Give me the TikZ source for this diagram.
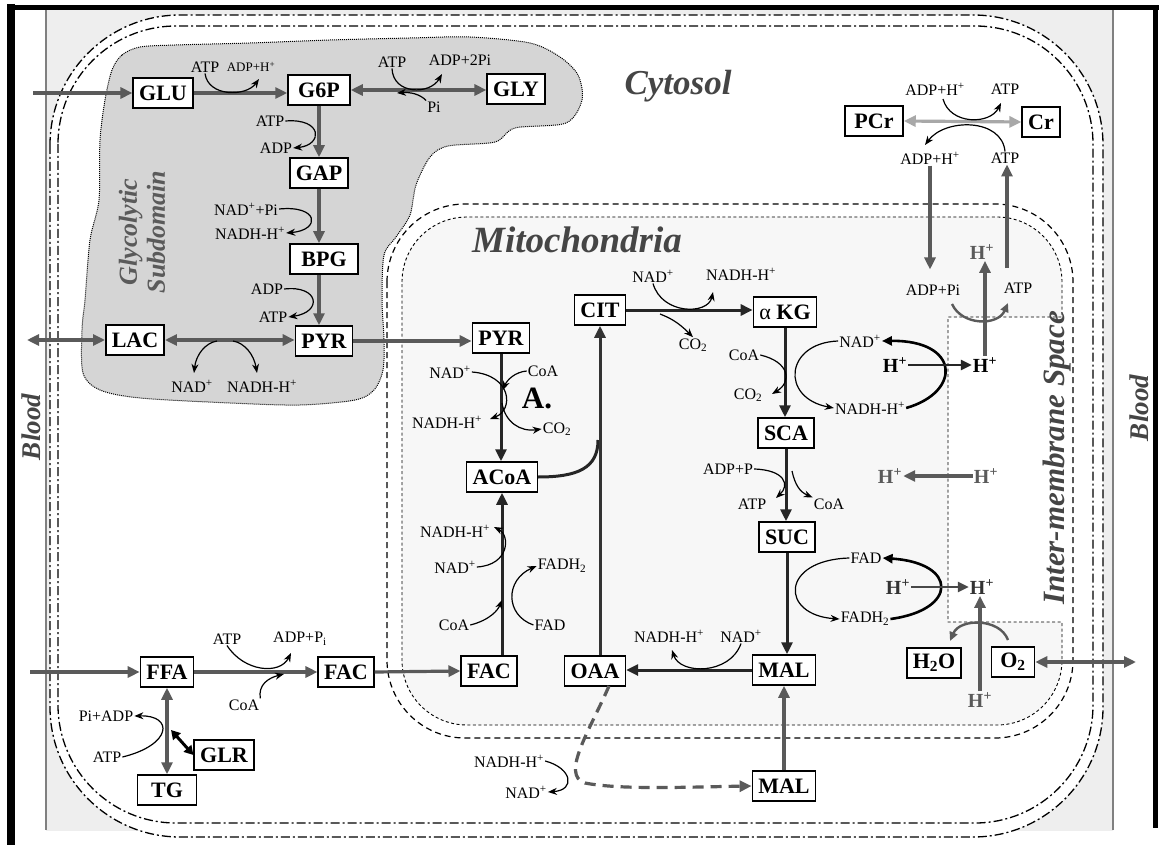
\documentclass[tikz,border=0pt]{standalone}
\usepackage{fontspec}
\setmainfont{Liberation Serif}
\usetikzlibrary{arrows.meta}
\definecolor{garc}{HTML}{5A5A5A}
\definecolor{ltg}{HTML}{A8A8A8}
\definecolor{blobc}{HTML}{D5D5D5}
\definecolor{ttl}{HTML}{454545}
\begin{document}
\begin{tikzpicture}[x=1pt,y=-1pt,
  box/.style={draw=black,line width=1.5pt,fill=white,font=\fontsize{22}{22}\selectfont\bfseries,inner xsep=6pt,inner ysep=2pt,minimum height=30pt},
  lab/.style={font=\fontsize{16}{16}\selectfont,inner sep=1pt},
  hlab/.style={font=\fontsize{20}{20}\selectfont\bfseries,inner sep=1pt},
  ttlf/.style={font=\fontsize{35}{35}\selectfont\bfseries\itshape,text=ttl},
  memb/.style={line width=1.3pt,dash pattern=on 9pt off 3pt on 2pt off 3pt},
  garr/.style={draw=garc,line width=3.2pt,-{Triangle[length=12pt,width=11pt]}},
  gdarr/.style={draw=garc,line width=3.2pt,{Triangle[length=12pt,width=11pt]}-{Triangle[length=12pt,width=11pt]}},
  barr/.style={draw=black!85,line width=3pt,-{Triangle[length=12pt,width=11pt]}},
  cof/.style={draw=black,line width=1.2pt,-{Stealth[length=9pt,width=7pt]}},
  pump/.style={draw=black,line width=2.6pt,-{Triangle[length=10pt,width=9pt]}},
  gcur/.style={draw=garc,line width=2.4pt,-{Triangle[length=9pt,width=8pt]}}
]
\useasboundingbox (0,0) rectangle (1162,845);
\fill[white] (0,0) rectangle (1162,845);
% hatched corners outside the cell
\begin{scope}
\clip (46,10) rectangle (1113,830);
\fill[gray!13,even odd rule] (46,10) rectangle (1113,845) [rounded corners=130pt] (50,15) rectangle (1103,837);
\end{scope}
% frame
\draw[line width=8pt] (11,4) -- (11,845);
\draw[line width=5pt] (7,7.5) -- (1159,7.5);
\draw[line width=5pt] (1155.5,5) -- (1155.5,828);
\draw[gray,line width=1.6pt] (46,10) -- (46,830);
\draw[gray,line width=1.6pt] (1113,10) -- (1113,830);
% cell membrane
\draw[memb,rounded corners=130pt] (50,15) rectangle (1103,837);
\draw[memb,rounded corners=118pt] (58,26) rectangle (1093,823);
% glycolytic subdomain
\draw[fill=blobc,densely dotted,line width=1pt] plot[smooth cycle,tension=0.5] coordinates {
(112,70) (122,55) (140,47) (175,45) (250,43) (330,40) (410,38) (470,37) (530,43) (560,57) (578,75) (582,100) (566,123) (515,128) (495,142) (448,146) (430,157) (416,185) (410,215) (396,237) (384,255) (382,300) (384,340) (383,370) (374,390) (355,400) (300,405) (230,403) (140,398) (100,390) (83,373) (82,330) (85,300) (90,240) (99,200) (100,140) (105,100)};
% mitochondria
\draw[line width=1.2pt,dash pattern=on 6pt off 4pt,rounded corners=78pt] (387,204) rectangle (1073,738);
\draw[fill=gray!6,line width=0.9pt,dash pattern=on 3pt off 2.5pt]
 (402,282) .. controls (402,246) and (431,217) .. (467,217) -- (997,217)
 .. controls (1033,217) and (1062,246) .. (1062,282) -- (1062,317) -- (948,317) -- (948,622) -- (1062,622) -- (1062,660)
 .. controls (1062,696) and (1033,725) .. (997,725) -- (467,725)
 .. controls (431,725) and (402,696) .. (402,660) -- cycle;
% titles
\node[ttlf] at (678,86) {Cytosol};
\node[ttlf,font=\fontsize{37}{37}\selectfont\bfseries\itshape] at (577,240) {Mitochondria};
\node[ttlf,font=\fontsize{26}{28}\selectfont\bfseries\itshape,text=garc,rotate=90,align=center] at (142,232) {Glycolytic\\Subdomain};
\node[ttlf,font=\fontsize{31}{31}\selectfont\bfseries\itshape,rotate=90] at (1057,458) {Inter-membrane Space};
\node[ttlf,font=\fontsize{27}{27}\selectfont\bfseries\itshape,rotate=90] at (31,427) {Blood};
\node[ttlf,font=\fontsize{27}{27}\selectfont\bfseries\itshape,rotate=90] at (1139,408) {Blood};
% boxes
\node[box] (glu) at (163,93) {GLU};
\node[box,minimum width=62pt] (g6p) at (319,90) {G6P};
\node[box] (gly) at (516,89) {GLY};
\node[box] (gap) at (319,173) {GAP};
\node[box,minimum width=68pt] (bpg) at (324,259) {BPG};
\node[box] (pyr) at (324,341) {PYR};
\node[box] (lac) at (135,340) {LAC};
\node[box] (pyrm) at (501,338) {PYR};
\node[box] (cit) at (600,310) {CIT};
\node[box] (akg) at (785,312) {{\mdseries α} KG};
\node[box] (acoa) at (502,477) {ACoA};
\node[box] (sca) at (786,433) {SCA};
\node[box] (suc) at (787,537) {SUC};
\node[box] (malm) at (784,670) {MAL};
\node[box] (oaa) at (595,671) {OAA};
\node[box] (facm) at (489,671) {FAC};
\node[box] (facc) at (346,672) {FAC};
\node[box] (ffa) at (167,672) {FFA};
\node[box] (glr) at (224,755) {GLR};
\node[box,minimum width=59pt] (tg) at (167,790) {TG};
\node[box] (malc) at (784,786) {MAL};
\node[box,minimum width=58pt] (pcr) at (874,121) {PCr};
\node[box] (cr) at (1041,122) {Cr};
\node[box] (h2o) at (934,663) {H\textsubscript{2}O};
\node[box,minimum width=43pt] (o2) at (1013,662) {O\textsubscript{2}};
% labels: glycolysis
\node[lab] (la1) at (205,67) {ATP};
\node[lab,font=\fontsize{13}{13}\selectfont] (la2) at (251,67) {ADP+H\textsuperscript{+}};
\node[lab] (la3) at (392,62) {ATP};
\node[lab] (la4) at (460,60) {ADP+2Pi};
\node[lab] (la5) at (434,107) {Pi};
\node[lab] (la6) at (270,121) {ATP};
\node[lab] (la7) at (276,148) {ADP};
\node[lab] (la8) at (246,209) {NAD\textsuperscript{+}+Pi};
\node[lab] (la9) at (250,233) {NADH-H\textsuperscript{+}};
\node[lab] (la10) at (267,289) {ADP};
\node[lab] (la11) at (273,317) {ATP};
\node[lab] (la12) at (192,386) {NAD\textsuperscript{+}};
\node[lab] (la13) at (262,386) {NADH-H\textsuperscript{+}};
% labels: mitochondria
\node[lab] (lm1) at (450,372) {NAD\textsuperscript{+}};
\node[lab] (lm2) at (447,422) {NADH-H\textsuperscript{+}};
\node[lab] (lm3) at (543,371) {CoA};
\node[font=\fontsize{31}{31}\selectfont\bfseries] (la) at (537,398) {A.};
\node[lab] (lm4) at (557,429) {CO\textsubscript{2}};
\node[lab] (lm5) at (653,276) {NAD\textsuperscript{+}};
\node[lab] (lm6) at (741,274) {NADH-H\textsuperscript{+}};
\node[lab] (lm7) at (693,345) {CO\textsubscript{2}};
\node[lab] (lm8) at (744,355) {CoA};
\node[lab] (lm9) at (748,395) {CO\textsubscript{2}};
\node[lab] (lm10) at (860,341) {NAD\textsuperscript{+}};
\node[lab] (lm11) at (870,408) {NADH-H\textsuperscript{+}};
\node[lab] (lm12) at (728,469) {ADP+P};
\node[lab] (lm13) at (752,504) {ATP};
\node[lab] (lm14) at (829,504) {CoA};
\node[lab] (lm15) at (866,558) {FAD};
\node[lab] (lm16) at (865,619) {FADH\textsubscript{2}};
\node[lab] (lm17) at (669,636) {NADH-H\textsuperscript{+}};
\node[lab] (lm18) at (741,636) {NAD\textsuperscript{+}};
\node[lab] (lm19) at (455,531) {NADH-H\textsuperscript{+}};
\node[lab] (lm20) at (455,567) {NAD\textsuperscript{+}};
\node[lab] (lm21) at (562,566) {FADH\textsubscript{2}};
\node[lab] (lm22) at (550,625) {FAD};
\node[lab] (lm23) at (454,625) {CoA};
% labels: cytosol lower
\node[lab] (lc1) at (509,761) {NADH-H\textsuperscript{+}};
\node[lab] (lc2) at (526,792) {NAD\textsuperscript{+}};
\node[lab] (lc3) at (227,639) {ATP};
\node[lab] (lc4) at (300,639) {ADP+P\textsubscript{i}};
\node[lab] (lc5) at (244,705) {CoA};
\node[lab] (lc6) at (106,716) {Pi+ADP};
\node[lab] (lc7) at (107,757) {ATP};
% labels: right side
\node[lab] (lr1) at (935,89) {ADP+H\textsuperscript{+}};
\node[lab] (lr2) at (1005,89) {ATP};
\node[lab] (lr3) at (930,158) {ADP+H\textsuperscript{+}};
\node[lab] (lr4) at (1005,158) {ATP};
\node[lab] (lr5) at (933,290) {ADP+Pi};
\node[lab] (lr6) at (1018,288) {ATP};
\node[hlab] (hp1) at (895,365) {H\textsuperscript{+}};
\node[hlab] (hp2) at (985,365) {H\textsuperscript{+}};
\node[hlab,text=garc] (hp3) at (982,252) {H\textsuperscript{+}};
\node[hlab,text=garc] (hp4) at (890,476) {H\textsuperscript{+}};
\node[hlab,text=garc] (hp5) at (986,476) {H\textsuperscript{+}};
\node[hlab,text=black!80] (hp6) at (898,587) {H\textsuperscript{+}};
\node[hlab,text=black!80] (hp7) at (982,587) {H\textsuperscript{+}};
\node[hlab,text=garc] (hp8) at (980,700) {H\textsuperscript{+}};
% free ends
\coordinate (bglu) at (33,93);
\coordinate (blac) at (27,340);
\coordinate (bffa) at (30,672);
\coordinate (bo2) at (1136,662);
\coordinate (atpb) at (1007,268);
% glycolysis arrows
\draw[garr] (bglu) -- (glu.west);
\draw[garr] (glu.east) -- (glu.east -| g6p.west);
\draw[gdarr] (g6p.east) -- (g6p.east -| gly.west);
\draw[garr] (g6p.south) -- (g6p.south |- gap.north);
\draw[garr] (gap.south) -- (gap.south |- bpg.north);
\draw[garr] (gap.south |- bpg.south) -- (gap.south |- pyr.north);
\draw[gdarr] (lac.east) -- (lac.east -| pyr.west);
\draw[gdarr] (blac) -- (lac.west);
\draw[cof] (la1.south) .. controls (208,97) and (246,97) .. (259,79);
\draw[cof] (la3.south) .. controls (393,95) and (430,95) .. (442,74);
\draw[cof] (la5.north west) .. controls (420,94) and (410,92) .. (397,93);
\draw[cof] (la6.east) .. controls (323,118) and (323,145) .. (la7.east);
\draw[cof] (la8.east) .. controls (319,205) and (321,230) .. (la9.east);
\draw[cof] (la10.east) .. controls (319,285) and (323,312) .. (la11.east);
\draw[cof] (217,341) .. controls (205,343) and (196,355) .. (194,373);
\draw[cof] (233,341) .. controls (245,343) and (254,355) .. (257,373);
% transport of pyruvate
\draw[garr] (pyr.east) -- (pyr.east -| pyrm.west);
% PDH
\draw[barr] (pyrm.south) -- (pyrm.south |- acoa.north);
\draw[cof] (lm1.east) .. controls (512,375) and (514,410) .. (490,419);
\draw[cof] (lm3.west) .. controls (515,372) and (507,380) .. (503,390);
\draw[cof] (502,403) .. controls (505,422) and (520,432) .. (lm4.west);
% TCA cycle
\draw[draw=black!85,line width=3pt] (acoa.east) .. controls (578,477) and (598,468) .. (598,440);
\draw[draw=black!80,line width=3pt,-{Triangle[length=12pt,width=11pt]}] (cit.south |- oaa.north) -- (cit.south);
\draw[barr] (cit.east) -- (cit.east -| akg.west);
\draw[cof] (lm5.south) .. controls (662,315) and (708,315) .. (713,292);
\draw[cof] (660,314) .. controls (670,318) and (678,322) .. (lm7.north);
\draw[barr] (akg.south) -- (akg.south |- sca.north);
\draw[cof] (lm8.east) .. controls (790,362) and (792,382) .. (772,394);
\draw[cof] (lm10.west) .. controls (785,343) and (780,398) .. (lm11.west);
\draw[pump] (lm11.east) .. controls (962,392) and (960,340) .. (lm10.east);
\draw[draw=black!85,line width=2.8pt,-{Triangle[length=11pt,width=10pt]}] (hp1.east) -- (hp2.west);
\draw[barr] (sca.south) -- (sca.south |- suc.north);
\draw[cof] (lm12.east) .. controls (785,470) and (790,485) .. (776,498);
\draw[cof] (792,471) .. controls (795,485) and (800,492) .. (lm14.north west);
\draw[barr] (suc.south) -- (suc.south |- malm.north);
\draw[cof] (lm15.west) .. controls (780,560) and (780,615) .. (lm16.west);
\draw[pump] (lm16.east) .. controls (958,610) and (958,563) .. (lm15.east);
\draw[draw=garc!80!black,line width=2.8pt,-{Triangle[length=11pt,width=10pt]}] (hp6.east) -- (hp7.west);
\draw[barr] (malm.west) -- (malm.west -| oaa.east);
\draw[cof] (lm18.south) .. controls (730,675) and (680,675) .. (672,650);
% beta oxidation
\draw[barr] (facm.north -| acoa.south) -- (acoa.south);
\draw[cof] (lm20.east) .. controls (510,565) and (510,535) .. (494,527);
\draw[cof] (lm22.west) .. controls (505,615) and (505,580) .. (lm21.west);
\draw[cof] (lm23.east) .. controls (490,620) and (498,610) .. (502,600);
% fatty acids in cytosol
\draw[garr] (bffa) -- (ffa.west);
\draw[garr] (ffa.east) -- (facc.west);
\draw[garr] (facc.east) -- (facm.west);
\draw[cof] (lc3.south) .. controls (244,672) and (280,675) .. (291,653);
\draw[cof] (lc5.north east) .. controls (258,685) and (268,678) .. (284,674);
\draw[gdarr] (ffa.south) -- (tg.north);
\draw[cof] (lc7.east) .. controls (172,745) and (174,715) .. (lc6.east);
\draw[draw=black,line width=3pt,{Triangle[length=9pt,width=10pt]}-{Triangle[length=9pt,width=10pt]}] (171,730) -- (glr.west);
% malate shuttle
\draw[garr] (malc.north) -- (malm.south);
\draw[garr,dash pattern=on 11pt off 7pt] (609,686) .. controls (590,730) and (560,775) .. (585,783) .. controls (620,790) and (690,787) .. (malc.west);
\draw[cof] (lc1.east) .. controls (572,768) and (576,790) .. (lc2.east);
% creatine kinase
\draw[draw=ltg,line width=3.2pt,{Triangle[length=12pt,width=11pt]}-{Triangle[length=12pt,width=11pt]}] (pcr.east) -- (cr.west);
\draw[cof] (943,99) .. controls (950,125) and (990,125) .. (1001,103);
\draw[cof] (lr4.north) .. controls (1002,118) and (945,118) .. (925,145);
\draw[garr] (lr3.south) -- ([yshift=14pt]lr3.south |- lr5.north);
\draw[garr] (atpb) -- ([xshift=2pt]lr4.south);
% ATP synthase
\draw[garr] (hp2.north) -- (hp2.north |- hp3.south);
\draw[gcur] (952,304) .. controls (962,326) and (998,326) .. (1008,303);
\draw[garr] (hp5.west) -- (hp4.east);
% respiratory chain
\draw[garr] (hp8.north) -- (hp8.north |- hp7.south);
\draw[gcur] (1008,640) .. controls (1000,618) and (960,618) .. (950,641);
\draw[gdarr] (o2.east) -- (bo2);
\end{tikzpicture}
\end{document}
